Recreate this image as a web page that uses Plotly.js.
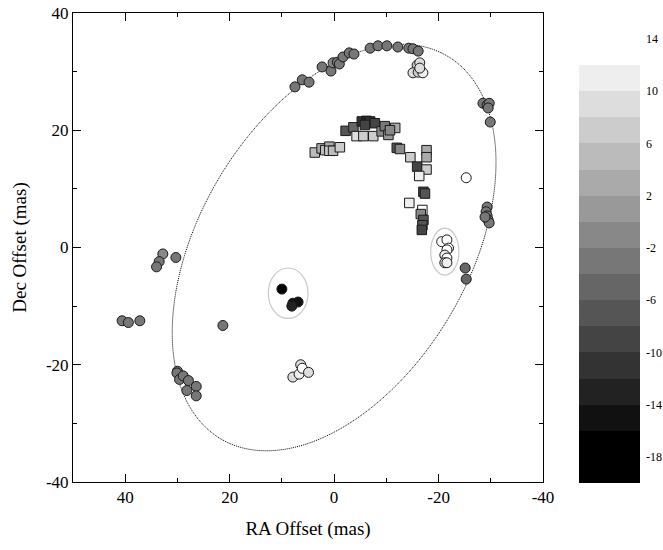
<!DOCTYPE html>
<html>
<head>
<meta charset="utf-8">
<script src="https://cdn.plot.ly/plotly-3.0.1.min.js"></script>
<style>html,body{margin:0;padding:0;background:#fff;}#chart{width:663px;height:550px;}</style>
</head>
<body>
<div id="chart"></div>
<script>
// ---- Data ----
// Filled/white circles: RA offset, Dec offset (mas), velocity (colour value)
const circleRA  = [7.5, 6.1, 4.8, 2.3, 0.6, 0.2, -0.6, -1.0, -1.7, -2.9, -3.8, -6.9, -8.4, -10.1, -12.2, -14.3, -15.1, -16.1,
                   -15.9, -16.4, -15.1, -16.1, -17.0, -16.4,
                   -28.5, -29.3, -29.7, -29.5, -29.9, -29.3, -29.1, -29.3, -29.5, -29.7, -28.9,
                   -25.3, -25.1, -25.3,
                   -20.6, -21.6, -21.9, -21.6, -21.2, -21.6, -21.2, -21.6,
                   32.8, 33.5, 34.0, 30.3, 40.6, 39.4, 37.2, 21.3,
                   10.0, 7.9, 6.9, 8.1,
                   30.0, 30.1, 29.6, 28.9, 27.9, 28.2, 26.4, 26.4,
                   7.9, 6.7, 6.4, 6.1, 4.9];
const circleDec = [27.4, 28.6, 28.2, 30.8, 30.1, 31.5, 31.6, 31.3, 32.5, 33.2, 33.0, 34.0, 34.4, 34.4, 34.2, 34.0, 33.9, 33.5,
                   31.1, 31.5, 29.8, 29.9, 29.8, 30.6,
                   24.6, 24.3, 24.6, 23.8, 21.4, 6.9, 6.1, 5.4, 4.7, 4.2, 5.2,
                   11.9, -3.5, -5.4,
                   1.0, 1.3, -0.1, -0.4, -1.3, -1.8, -2.6, -2.6,
                   -1.1, -2.4, -3.3, -1.7, -12.5, -12.8, -12.5, -13.3,
                   -7.1, -9.5, -9.3, -10.0,
                   -21.1, -21.4, -22.5, -21.9, -22.7, -24.4, -23.7, -25.3,
                   -22.1, -21.6, -20.0, -20.6, -21.3];
const circleVel = [-3, -3, -3, -3, -3, -1, -3, -3, -3, -3, -3, -3, -3, -3, -3, -3, -3, -3,
                   7, 9, 9, 7, 11, 9,
                   -3, -3, -3, -3, -3, -3, -3, -3, -3, -3, -3,
                   13, -5, -5,
                   13, 13, 13, 13, 11, 13, 9, 11,
                   -1, -3, -3, -3, -3, -3, -3, -3,
                   -17, -15, -15, -13,
                   -3, -3, -3, -3, -3, -3, -3, -3,
                   9, 11, 9, 13, 9];

// Squares: RA offset, Dec offset (mas), velocity (colour value)
const squareRA  = [3.7, 2.4, 1.7, 0.9, 0.9, 0.2, -1.1,
                   -2.2, -3.7, -4.3, -5.6, -5.3, -6.2, -6.9, -7.8, -5.9, -7.5, -9.1, -9.7, -10.4, -11.7, -10.7,
                   -12.0, -12.6, -14.6, -17.7, -17.7, -15.9, -17.7, -16.3, -17.1, -17.4, -14.4, -16.9, -16.6, -17.1, -16.9, -16.8];
const squareDec = [16.2, 16.9, 16.6, 17.2, 16.5, 16.5, 17.1,
                   19.9, 20.5, 19.0, 19.0, 21.5, 21.6, 21.5, 21.2, 20.9, 19.0, 19.8, 20.7, 19.2, 20.4, 20.0,
                   17.0, 16.8, 15.4, 16.6, 15.4, 13.8, 13.3, 12.2, 9.5, 9.2, 7.6, 6.4, 5.7, 4.7, 3.8, 3.0];
const squareVel = [5, 3, 5, 3, 7, 5, 7,
                   -7, -5, 9, 7, -11, -13, -11, -9, -9, 7, -1, -3, 1, 3, -1,
                   -7, -1, 7, 3, 3, -9, 7, 11, -9, -7, 11, 13, -1, -7, -7, -9];

// Axis tick labels
const xTickVals = [40, 20, 0, -20, -40];
const yTickVals = [40, 20, 0, -20, -40];

// Colour bar bands (velocity edges and grey levels)
const bandEdges  = [-20, -16, -14, -12, -10, -8, -6, -4, -2, 0, 2, 4, 6, 8, 10, 12, 14];
const bandColors = ['#000000', '#111111', '#222222', '#333333', '#444444', '#555555', '#666666', '#777777',
                    '#888888', '#999999', '#aaaaaa', '#bbbbbb', '#cccccc', '#dddddd', '#eeeeee', '#ffffff'];
const colorbarTicks = [14, 10, 6, 2, -2, -6, -10, -14, -18];

// Fitted orbit ellipse (centre and shape, mas) and two small marker ellipses
const orbitCentre = [0.0, 0.0];
const orbitShape = {l11: 31.0, l21: -14.5, l22: 31.5};
const smallEllipses = [
  {x: 8.8, y: -7.8, rx: 3.8, ry: 4.3},
  {x: -21.2, y: -0.7, rx: 2.7, ry: 4.0}
];

// ---- Build ----
const vmin = bandEdges[0], vmax = bandEdges[bandEdges.length - 1];
const norm = v => (v - vmin) / (vmax - vmin);
const colorscale = [];
for (let i = 0; i < bandColors.length; i++) {
  colorscale.push([norm(bandEdges[i]), bandColors[i]]);
  colorscale.push([norm(bandEdges[i + 1]), bandColors[i]]);
}

let path = '';
const nSeg = 240;
for (let k = 0; k <= nSeg; k++) {
  const t = 2 * Math.PI * k / nSeg;
  const x = orbitCentre[0] + orbitShape.l11 * Math.cos(t);
  const y = orbitCentre[1] + orbitShape.l21 * Math.cos(t) + orbitShape.l22 * Math.sin(t);
  path += (k === 0 ? 'M' : 'L') + x.toFixed(3) + ',' + y.toFixed(3);
}
path += 'Z';

const shapes = [{
  type: 'path', xref: 'x', yref: 'y', path: path, layer: 'below',
  line: {color: '#000', width: 1, dash: '1px,1px'}
}];
smallEllipses.forEach(e => shapes.push({
  type: 'circle', xref: 'x', yref: 'y', layer: 'below',
  x0: e.x - e.rx, x1: e.x + e.rx, y0: e.y - e.ry, y1: e.y + e.ry,
  line: {color: '#c8c8c8', width: 1.2}
}));

const FONT = 'Liberation Serif, Times New Roman, serif';
const markerCommon = {
  size: 10, colorscale: colorscale, cmin: vmin, cmax: vmax,
  line: {color: '#1a1a1a', width: 1}
};

const traces = [
  {
    type: 'scatter', mode: 'markers', x: squareRA, y: squareDec,
    marker: Object.assign({}, markerCommon, {symbol: 'square', size: 9.5, color: squareVel, showscale: false}),
    hoverinfo: 'x+y'
  },
  {
    type: 'scatter', mode: 'markers', x: circleRA, y: circleDec,
    marker: Object.assign({}, markerCommon, {
      symbol: 'circle', color: circleVel, showscale: true,
      colorbar: {
        x: 1.0766, xanchor: 'left', xpad: 0, ypad: 0,
        y: -0.002, yanchor: 'bottom', len: 0.947, lenmode: 'fraction',
        thickness: 61, thicknessmode: 'pixels', outlinewidth: 0,
        tickvals: colorbarTicks, ticktext: colorbarTicks.map(String),
        ticks: 'outside', ticklen: 4, tickcolor: 'rgba(0,0,0,0)',
        tickfont: {family: FONT, size: 12, color: '#000'}
      }
    }),
    hoverinfo: 'x+y'
  }
];

const axisCommon = {
  showgrid: false, zeroline: false, showline: true, linecolor: '#000', linewidth: 1,
  mirror: 'ticks', ticks: 'inside', ticklen: 8, tickwidth: 1, tickcolor: '#000',
  tickmode: 'array', automargin: false,
  minor: {dtick: 10, tick0: 0, ticks: 'inside', ticklen: 4, tickcolor: '#000', showgrid: false},
  tickfont: {family: FONT, size: 17, color: '#000'}
};

const layout = {
  width: 663, height: 550,
  margin: {l: 73, r: 120, t: 13, b: 68, autoexpand: false},
  paper_bgcolor: '#fff', plot_bgcolor: '#fff',
  showlegend: false,
  xaxis: Object.assign({}, axisCommon, {
    range: [50, -40], autorange: false,
    tickvals: xTickVals, ticktext: xTickVals.map(String),
    title: {text: 'RA Offset (mas)', font: {family: FONT, size: 19, color: '#000'}, standoff: 15}
  }),
  yaxis: Object.assign({}, axisCommon, {
    range: [-40, 40], autorange: false,
    tickvals: yTickVals, ticktext: yTickVals.map(String),
    title: {text: 'Dec Offset (mas)', font: {family: FONT, size: 19, color: '#000'}, standoff: 14}
  }),
  shapes: shapes
};

Plotly.newPlot('chart', traces, layout, {displayModeBar: false, staticPlot: true});
</script>
</body>
</html>
